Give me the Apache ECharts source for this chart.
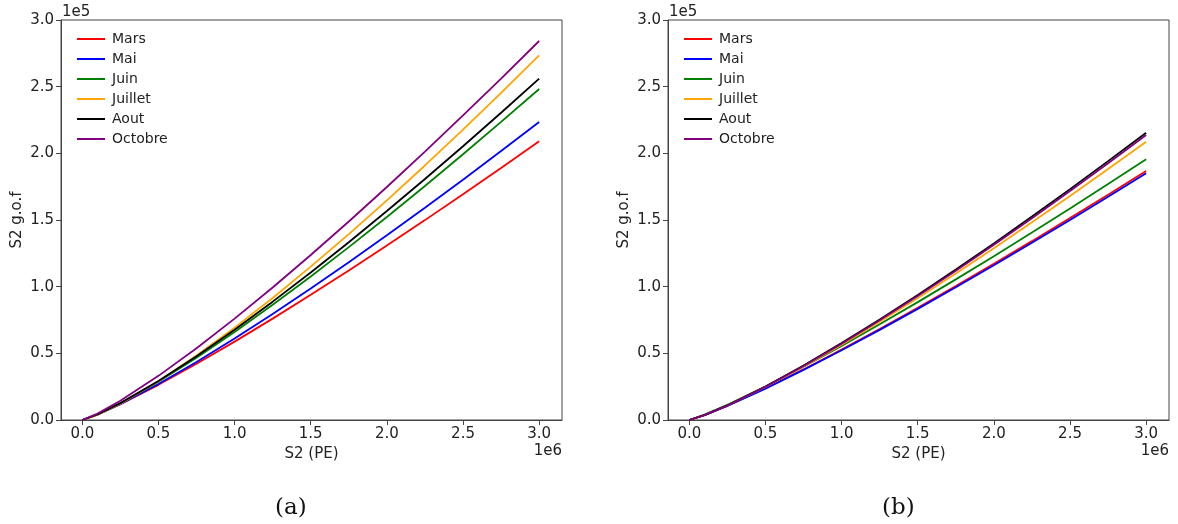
<!DOCTYPE html>
<html>
<head>
<meta charset="utf-8">
<script src="https://cdn.jsdelivr.net/npm/echarts@6/dist/echarts.min.js"></script>
<style>
html,body{margin:0;padding:0;background:#fff;}
#c{width:1178px;height:524px;}
</style>
</head>
<body>
<div id="c"></div>
<script>
// x positions in units of 1e6 PE, y values in units of 1e5
const xValues = [0, 0.1, 0.25, 0.5, 0.75, 1.0, 1.25, 1.5, 1.75, 2.0, 2.25, 2.5, 2.75, 3.0];
const xTickLabels = [0, 0.5, 1.0, 1.5, 2.0, 2.5, 3.0];
const yTickLabels = [0, 0.5, 1.0, 1.5, 2.0, 2.5, 3.0];
const seriesNames = ['Mars', 'Mai', 'Juin', 'Juillet', 'Aout', 'Octobre'];
const seriesColors = ['#ff0000', '#0000ff', '#008000', '#ffa500', '#000000', '#800080'];

// Panel (a)
const marsA    = [0, 0.0411, 0.1185, 0.2638, 0.4216, 0.5877, 0.7604, 0.9386, 1.1215, 1.3083, 1.4991, 1.6931, 1.8902, 2.0900];
const maiA     = [0, 0.0404, 0.1191, 0.2698, 0.4354, 0.6113, 0.7954, 0.9865, 1.1832, 1.3850, 1.5915, 1.8023, 2.0169, 2.2350];
const juinA    = [0, 0.0412, 0.1243, 0.2865, 0.4672, 0.6606, 0.8644, 1.0769, 1.2966, 1.5230, 1.7551, 1.9930, 2.2355, 2.4825];
const juilletA = [0, 0.0390, 0.1225, 0.2913, 0.4835, 0.6928, 0.9154, 1.1501, 1.3943, 1.6476, 1.9090, 2.1776, 2.4530, 2.7350];
const aoutA    = [0, 0.0418, 0.1266, 0.2929, 0.4785, 0.6776, 0.8876, 1.1067, 1.3335, 1.5672, 1.8074, 2.0531, 2.3043, 2.5600];
const octobreA = [0, 0.0480, 0.1441, 0.3311, 0.5387, 0.7606, 0.9940, 1.2373, 1.4886, 1.7473, 2.0128, 2.2840, 2.5608, 2.8425];

// Panel (b)
const marsB    = [0, 0.0374, 0.1072, 0.2379, 0.3793, 0.5279, 0.6824, 0.8415, 1.0047, 1.1715, 1.3414, 1.5144, 1.6895, 1.8675];
const maiB     = [0, 0.0370, 0.1062, 0.2357, 0.3757, 0.5229, 0.6760, 0.8336, 0.9953, 1.1605, 1.3288, 1.5002, 1.6737, 1.8500];
const juinB    = [0, 0.0398, 0.1136, 0.2513, 0.3998, 0.5558, 0.7175, 0.8840, 1.0547, 1.2289, 1.4064, 1.5867, 1.7697, 1.9550];
const juilletB = [0, 0.0364, 0.1085, 0.2476, 0.4010, 0.5649, 0.7365, 0.9150, 1.0993, 1.2884, 1.4823, 1.6804, 1.8823, 2.0875];
const aoutB    = [0, 0.0364, 0.1092, 0.2511, 0.4084, 0.5767, 0.7536, 0.9381, 1.1286, 1.3247, 1.5260, 1.7315, 1.9414, 2.1550];
const octobreB = [0, 0.0361, 0.1083, 0.2490, 0.4051, 0.5720, 0.7475, 0.9305, 1.1194, 1.3139, 1.5136, 1.7175, 1.9257, 2.1375];

const panelA = [marsA, maiA, juinA, juilletA, aoutA, octobreA];
const panelB = [marsB, maiB, juinB, juilletB, aoutB, octobreB];

const FONT = 'DejaVu Sans';
const TXT = '#222';
const SPINE = '#444';

function makeX(gridIndex) {
  return {
    type: 'value', gridIndex, min: -0.14, max: 3.15,
    name: 'S2 (PE)', nameLocation: 'middle', nameGap: 24,
    nameTextStyle: { fontFamily: FONT, fontSize: 15, color: TXT },
    axisLine: { show: true, onZero: false, lineStyle: { color: SPINE, width: 1 } },
    axisTick: { show: true, length: 5, lineStyle: { color: SPINE }, customValues: xTickLabels },
    axisLabel: { fontFamily: FONT, fontSize: 15, color: TXT, margin: 7,
      customValues: xTickLabels, formatter: v => v.toFixed(1) },
    splitLine: { show: false }
  };
}
function makeY(gridIndex) {
  return {
    type: 'value', gridIndex, min: 0, max: 3, interval: 0.5,
    name: 'S2 g.o.f', nameLocation: 'middle', nameGap: 36, nameRotate: 90,
    nameTextStyle: { fontFamily: FONT, fontSize: 15, color: TXT },
    axisLine: { show: true, onZero: false, lineStyle: { color: SPINE, width: 1 } },
    axisTick: { show: true, length: 5, lineStyle: { color: SPINE }, customValues: yTickLabels },
    axisLabel: { fontFamily: FONT, fontSize: 15, color: TXT, margin: 7,
      customValues: yTickLabels, formatter: v => v.toFixed(1) },
    splitLine: { show: false }
  };
}

const series = [];
[panelA, panelB].forEach((panel, p) => {
  panel.forEach((arr, i) => {
    series.push({
      type: 'line', name: seriesNames[i], xAxisIndex: p, yAxisIndex: p,
      data: xValues.map((x, k) => [x, arr[k]]),
      showSymbol: false, smooth: false,
      lineStyle: { color: seriesColors[i], width: 1.8 },
      itemStyle: { color: seriesColors[i] },
      animation: false
    });
  });
});

function makeLegend(left) {
  return {
    left, top: 24, orient: 'vertical', icon: 'rect',
    itemWidth: 28, itemHeight: 2, itemGap: 0,
    data: seriesNames,
    textStyle: { fontFamily: FONT, fontSize: 14, color: TXT, lineHeight: 20, padding: [0, 0, 0, 2] }
  };
}

const chart = echarts.init(document.getElementById('c'));
chart.setOption({
  animation: false,
  backgroundColor: '#fff',
  grid: [
    { left: 61, top: 20, width: 501, height: 400, show: true, borderColor: SPINE, borderWidth: 1, backgroundColor: 'transparent' },
    { left: 668, top: 20, width: 501, height: 400, show: true, borderColor: SPINE, borderWidth: 1, backgroundColor: 'transparent' }
  ],
  xAxis: [makeX(0), makeX(1)],
  yAxis: [makeY(0), makeY(1)],
  legend: [makeLegend(72), makeLegend(679)],
  series,
  graphic: [
    { type: 'text', left: 62, top: 5, style: { text: '1e5', font: '15px "DejaVu Sans"', fill: TXT } },
    { type: 'text', left: 669, top: 5, style: { text: '1e5', font: '15px "DejaVu Sans"', fill: TXT } },
    { type: 'text', right: 1178 - 562, top: 444, style: { text: '1e6', font: '15px "DejaVu Sans"', fill: TXT } },
    { type: 'text', right: 1178 - 1169, top: 444, style: { text: '1e6', font: '15px "DejaVu Sans"', fill: TXT } },
    { type: 'text', left: 275, top: 497, style: { text: '(a)', font: '23px "DejaVu Serif"', fill: '#111' } },
    { type: 'text', left: 882, top: 497, style: { text: '(b)', font: '23px "DejaVu Serif"', fill: '#111' } }
  ]
});
</script>
</body>
</html>
